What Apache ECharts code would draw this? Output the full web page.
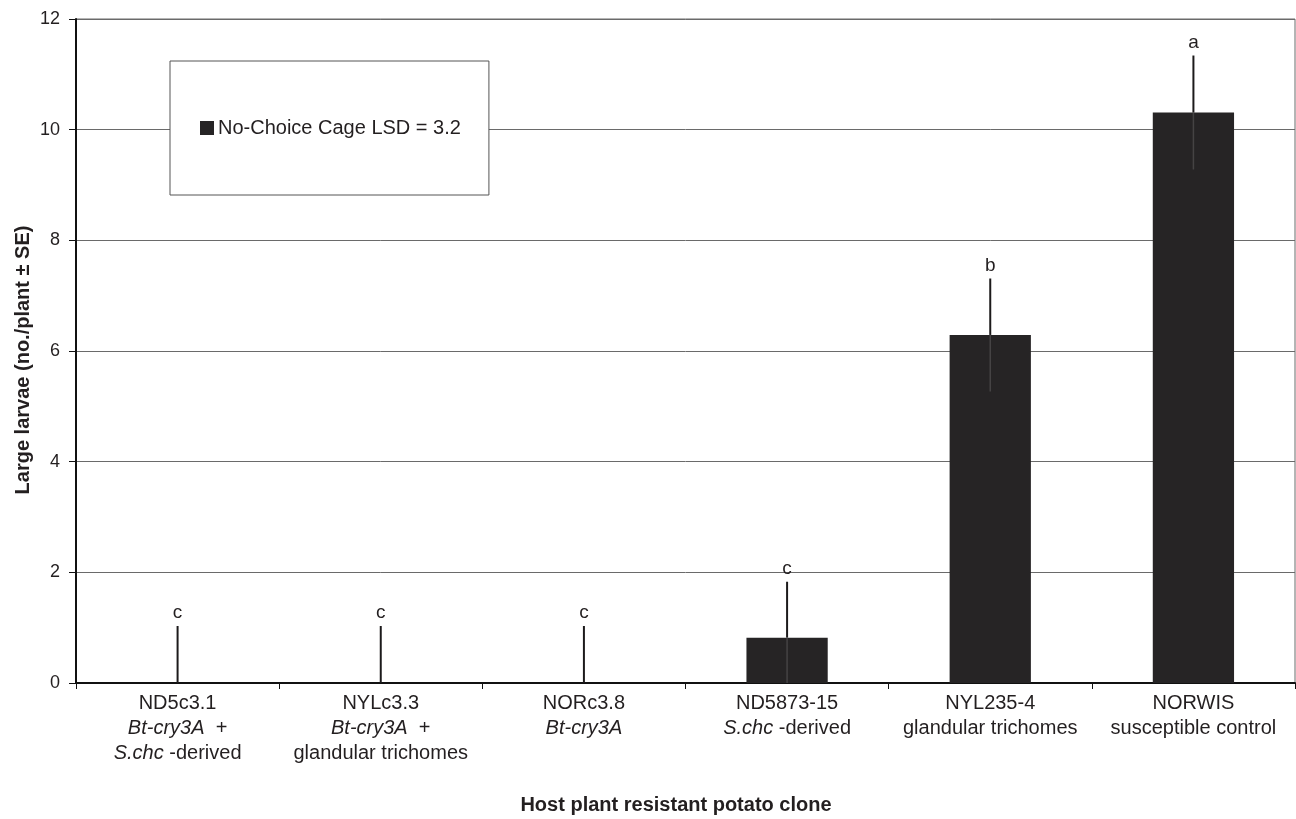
<!DOCTYPE html>
<html>
<head>
<meta charset="utf-8">
<script src="https://cdn.jsdelivr.net/npm/echarts@6/dist/echarts.min.js"></script>
<style>
  html, body { margin: 0; padding: 0; background: #fff; }
  #chart { width: 1296px; height: 819px; }
</style>
</head>
<body>
<div id="chart"></div>
<script>
// Potato clones (first label line) and their descriptors (rich-text lines below)
const clones = ['ND5c3.1', 'NYLc3.3', 'NORc3.8', 'ND5873-15', 'NYL235-4', 'NORWIS'];
const descriptors = [
  ['{i|Bt-cry3A}  +', '{i|S.chc} -derived'],
  ['{i|Bt-cry3A}  +', 'glandular trichomes'],
  ['{i|Bt-cry3A}'],
  ['{i|S.chc} -derived'],
  ['glandular trichomes'],
  ['susceptible control']
];
// Mean large larvae per plant and standard error
const meanLarvae = [0, 0, 0, 0.82, 6.29, 10.31];
const seLarvae = [1.03, 1.03, 1.03, 1.01, 1.02, 1.03];
// Mean separation letters
const letters = ['c', 'c', 'c', 'c', 'b', 'a'];
const yTicks = { min: 0, max: 12, interval: 2 };

const FONT = '"Liberation Sans", Arial, Helvetica, sans-serif';
const INK = '#231f20';

const chart = echarts.init(document.getElementById('chart'), null, { renderer: 'canvas' });

const labelText = clones.map((c, i) => [c].concat(descriptors[i]).join('\n'));

chart.setOption({
  backgroundColor: '#ffffff',
  animation: false,
  textStyle: { fontFamily: FONT, color: INK },
  grid: {
    left: 76, right: 1, top: 19, bottom: 136,
    show: true, borderColor: '#6a6a6a', borderWidth: 1, backgroundColor: 'transparent'
  },
  legend: {
    data: ['No-Choice Cage LSD = 3.2'],
    left: 170, top: 61,
    orient: 'horizontal',
    backgroundColor: '#ffffff',
    borderColor: '#555555', borderWidth: 1,
    padding: [57, 28, 57, 30],
    itemWidth: 14, itemHeight: 14, itemGap: 0,
    icon: 'rect',
    selectedMode: false,
    textStyle: { fontSize: 20, fontFamily: FONT, color: INK, padding: [0, 0, 0, -1] }
  },
  xAxis: {
    type: 'category',
    data: labelText,
    axisLine: { lineStyle: { color: '#111', width: 2 } },
    axisTick: { show: true, inside: false, length: 6, lineStyle: { color: '#111', width: 1 } },
    axisLabel: {
      interval: 0, margin: 8, fontSize: 20, lineHeight: 25, color: INK, fontFamily: FONT,
      rich: {
        i: { fontStyle: 'italic', fontSize: 20, lineHeight: 25, color: INK, fontFamily: FONT }
      }
    },
    splitLine: { show: false }
  },
  yAxis: {
    type: 'value',
    min: yTicks.min, max: yTicks.max, interval: yTicks.interval,
    axisLine: { show: true, lineStyle: { color: '#111', width: 2 } },
    axisTick: { show: true, inside: false, length: 7, lineStyle: { color: '#111', width: 1 } },
    axisLabel: { fontSize: 18, margin: 16, color: INK, fontFamily: FONT },
    splitLine: { show: true, lineStyle: { color: '#6a6a6a', width: 1 } }
  },
  graphic: [
    {
      type: 'text', x: 23, y: 360, rotation: Math.PI / 2,
      style: {
        text: 'Large larvae (no./plant ± SE)', fontSize: 20, fontWeight: 'bold',
        fontFamily: FONT, fill: INK, align: 'center', verticalAlign: 'middle'
      }
    },
    {
      type: 'text', x: 676, y: 805,
      style: {
        text: 'Host plant resistant potato clone', fontSize: 20, fontWeight: 'bold',
        fontFamily: FONT, fill: INK, align: 'center', verticalAlign: 'middle'
      }
    }
  ],
  series: [
    {
      name: 'No-Choice Cage LSD = 3.2',
      type: 'bar',
      data: meanLarvae,
      barWidth: '40%',
      itemStyle: { color: '#262425' },
      z: 2
    },
    {
      name: 'errors',
      type: 'custom',
      data: meanLarvae.map((m, i) => [i, m, seLarvae[i]]),
      z: 3,
      clip: false,
      renderItem: function (params, api) {
        const idx = api.value(0);
        const m = api.value(1);
        const se = api.value(2);
        const top = api.coord([idx, m + se]);
        const mid = api.coord([idx, m]);
        const bot = api.coord([idx, Math.max(0, m - se)]);
        const children = [
          {
            type: 'line',
            shape: { x1: top[0], y1: top[1], x2: mid[0], y2: mid[1] },
            style: { stroke: '#1c1a1b', lineWidth: 2 }
          },
          {
            type: 'text',
            style: {
              text: letters[params.dataIndex], x: top[0], y: top[1] - 13,
              align: 'center', verticalAlign: 'middle',
              fontSize: 19, fontFamily: FONT, fill: INK
            }
          }
        ];
        if (mid[1] < bot[1]) {
          children.push({
            type: 'line',
            shape: { x1: mid[0], y1: mid[1], x2: bot[0], y2: bot[1] },
            style: { stroke: '#454344', lineWidth: 1.5 }
          });
        }
        return { type: 'group', children: children };
      }
    }
  ]
});
</script>
</body>
</html>
